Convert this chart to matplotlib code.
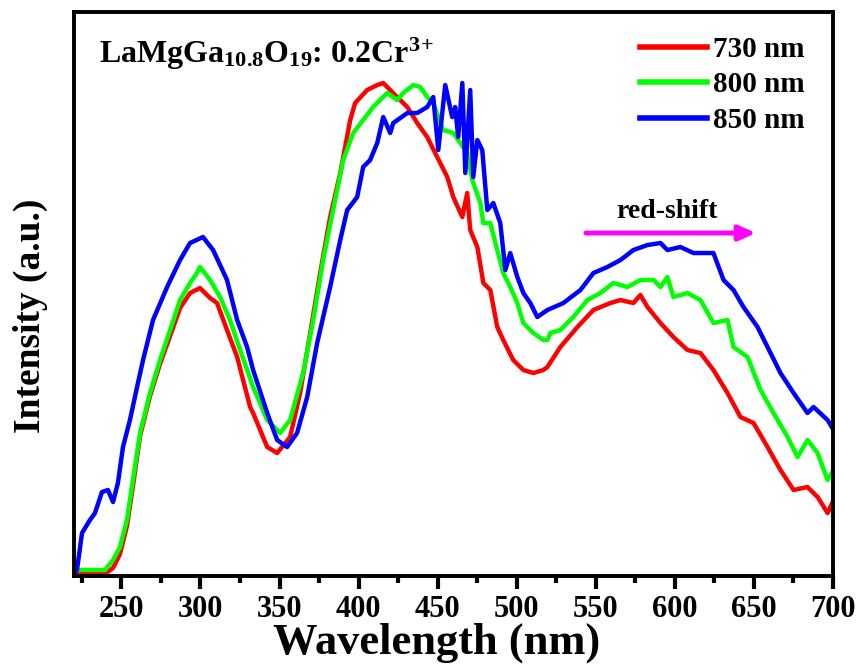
import numpy as np
import matplotlib.pyplot as plt
from matplotlib.ticker import MultipleLocator

plt.rcParams['font.family'] = 'Liberation Serif'
plt.rcParams['font.weight'] = 'bold'
plt.rcParams['mathtext.fontset'] = 'custom'
plt.rcParams['mathtext.rm'] = 'Liberation Serif:bold'
plt.rcParams['mathtext.bf'] = 'Liberation Serif:bold'
plt.rcParams['mathtext.it'] = 'Liberation Serif:bold'

# 730 nm emission monitored
wl_730 = [220, 230.1, 240.3, 244.7, 249.1, 253.5, 257.3, 261.8, 268.1, 274.4, 280.8, 287.1,
          293.4, 299.7, 306.1, 310.5, 316.8, 323.2, 331.4, 333.3, 342.2, 348.5, 356.7, 363,
          369.4, 375.7, 382, 388.4, 394.7, 397.8, 405.4, 411.8, 415.6, 424.4, 430.8, 437.1,
          443.4, 449.7, 456.1, 459.9, 465.6, 468.7, 470.6, 475.1, 478.9, 483.3, 487.7, 491.5,
          497.8, 504.2, 510.5, 516.8, 519.4, 527.6, 538.4, 548.5, 559.2, 565.6, 573.8, 578.2,
          582.7, 590.9, 599.1, 608, 616.2, 624.4, 633.3, 641.5, 649.8, 658.6, 666.8, 675.1,
          683.9, 690.3, 696.6, 700.4]
I_730 = [2, 2, 3, 8, 22, 50, 90, 140, 180, 212, 240, 268,
         283, 288, 278, 273, 246, 219, 169, 163, 129, 123, 139, 183,
         243, 303, 359, 403, 456, 473, 486, 491, 493, 479, 469, 453,
         439, 419, 399, 379, 359, 383, 346, 329, 293, 286, 249, 236,
         216, 206, 203, 206, 209, 229, 249, 266, 273, 276, 273, 281,
         269, 253, 239, 226, 223, 206, 183, 159, 153, 129, 106, 86,
         89, 79, 63, 76]

# 800 nm emission monitored
wl_800 = [222.5, 230.1, 239.6, 244.7, 249.1, 253.5, 257.3, 261.8, 268.1, 274.4, 280.8, 287.1,
          293.4, 297.8, 299.7, 306.1, 312.4, 318.7, 325.1, 333.3, 342.2, 350.4, 356.7, 364.9,
          371.3, 377.6, 383.9, 390.3, 396.6, 402.9, 409.2, 418.1, 424.4, 428.2, 434.6, 439,
          443.4, 447.2, 453.5, 459.9, 464.3, 468.7, 471.9, 477, 478.9, 483.3, 487.7, 491.5,
          495.9, 500.4, 504.2, 510.5, 516.8, 519.4, 521.3, 527.6, 535.8, 544.7, 552.9, 561.1,
          570, 578.2, 586.5, 590.9, 595.3, 599.1, 608, 616.2, 624.4, 633.3, 637.1, 646,
          654.2, 662.4, 671.3, 677.6, 683.9, 690.3, 696.6, 700.4]
I_800 = [6, 6, 6, 16, 29, 56, 96, 143, 183, 216, 246, 276,
         293, 303, 309, 296, 279, 256, 226, 189, 156, 143, 156, 203,
         256, 316, 366, 416, 443, 456, 469, 483, 476, 483, 491, 489,
         479, 473, 446, 443, 433, 423, 396, 373, 353, 353, 326, 303,
         289, 273, 253, 243, 236, 236, 243, 246, 259, 276, 283, 293,
         289, 296, 296, 289, 299, 279, 283, 276, 253, 256, 229, 219,
         186, 163, 139, 119, 136, 123, 96, 106]

# 850 nm emission monitored
wl_850 = [220, 221.9, 225.1, 230.1, 233.3, 237.7, 241.5, 244.7, 247.8, 251, 255.4, 259.9,
          263.7, 270, 278.9, 287.1, 293.4, 301.6, 308, 316.8, 323.2, 329.5, 333.3, 342.2,
          348.5, 354.8, 361.1, 367.5, 373.8, 382, 388.4, 392.8, 399.1, 402.9, 407.3, 411.8,
          415.6, 420, 421.9, 430.8, 437.1, 443.4, 447.2, 450.4, 454.8, 459.2, 461.1, 463,
          465.6, 467.5, 470.6, 472.5, 475.1, 478.2, 481.4, 485.2, 489.6, 492.8, 495.9, 500.4,
          504.2, 508.6, 513, 519.4, 529.5, 540.3, 548.5, 557.3, 565.6, 573.8, 582.7, 590.9,
          595.3, 603.5, 611.8, 624.4, 630.8, 637.1, 643.4, 652.3, 658.6, 666.8, 675.1, 683.9,
          687.7, 696.6, 700.4]
I_850 = [2, 6, 43, 56, 63, 84, 86, 74, 93, 129, 156, 189,
         216, 256, 289, 316, 333, 339, 326, 296, 256, 229, 206, 163,
         136, 129, 143, 179, 233, 289, 336, 366, 379, 409, 416, 433,
         459, 443, 453, 463, 463, 469, 479, 426, 491, 459, 469, 439,
         493, 403, 486, 399, 436, 426, 366, 373, 353, 306, 323, 299,
         283, 273, 259, 266, 273, 286, 303, 309, 316, 326, 331, 333,
         326, 329, 323, 323, 296, 286, 269, 249, 229, 203, 183, 163,
         169, 156, 146]

series = [(wl_730, I_730, '#ff0000', '730 nm'),
          (wl_800, I_800, '#00ff00', '800 nm'),
          (wl_850, I_850, '#0000ff', '850 nm')]

fig = plt.figure(figsize=(8.59, 6.68), dpi=100)
ax = fig.add_axes([0.0861, 0.1377, 0.8836, 0.8443])

for x, y, c, lab in series:
    ax.plot(x, y, color=c, lw=3.2, label=lab, solid_joinstyle='round')

ax.set_xlim(220, 700)
ax.set_ylim(0, 564)
ax.xaxis.set_major_locator(MultipleLocator(50))
ax.xaxis.set_minor_locator(MultipleLocator(25))
ax.set_yticks([])
ax.tick_params(axis='x', which='major', direction='out', length=9, width=3,
               labelsize=22, pad=5)
ax.tick_params(axis='x', which='minor', direction='out', length=5, width=3)
for s in ax.spines.values():
    s.set_linewidth(2.8)

ax.set_xlabel('Wavelength (nm)', fontsize=32, fontweight='bold')
ax.xaxis.set_label_coords(0.478, -0.082)
ax.set_ylabel('Intensity (a.u.)', fontsize=27, fontweight='bold')
ax.yaxis.set_label_coords(-0.034, 0.461)

ax.text(0.033, 0.91, r'LaMgGa$_{\mathrm{10.8}}$O$_{\mathrm{19}}$: 0.2Cr$^{\mathrm{3\!+}}$',
        transform=ax.transAxes, fontsize=23, fontweight='bold')

leg = ax.legend(loc='upper right', bbox_to_anchor=(0.997, 1.004), frameon=False,
                fontsize=21, handlelength=2.3, handletextpad=0.2, labelspacing=0.29)
for h in leg.get_lines():
    h.set_linewidth(4)

ax.annotate('', xy=(653, 343), xytext=(542, 343),
            arrowprops=dict(arrowstyle='-|>,head_length=1.0,head_width=0.45',
                            color='#ff00ff', lw=3.5))
ax.text(595, 352, 'red-shift', fontsize=20, fontweight='bold', ha='center', va='bottom')

fig.savefig('out.png', dpi=100)
